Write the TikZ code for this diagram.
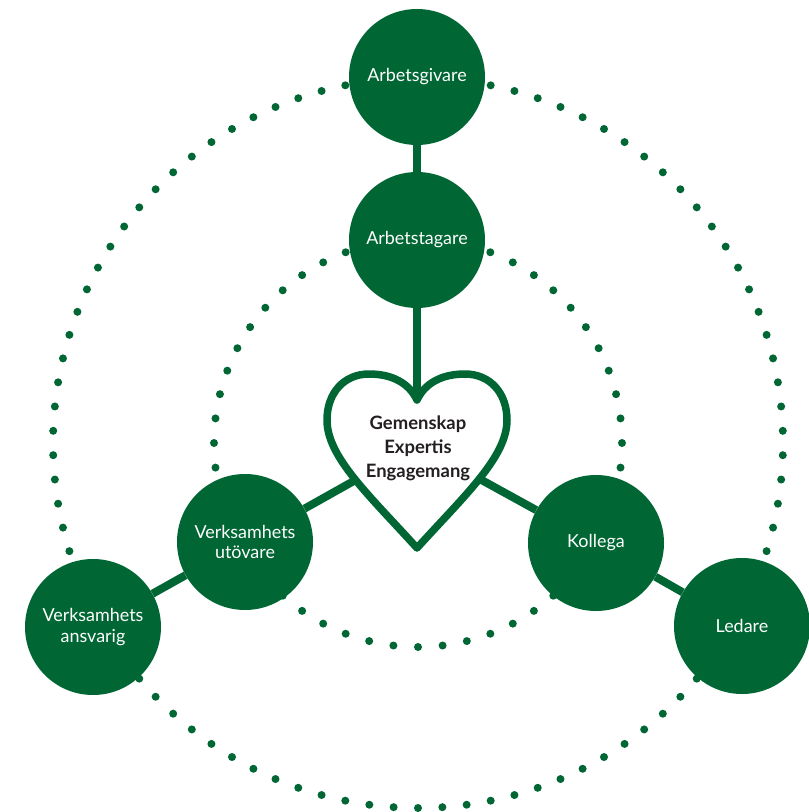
\documentclass[tikz,border=0pt]{standalone}
\usepackage{fontspec}
\setmainfont{Lato}
\definecolor{grn}{RGB}{0,103,52}
\definecolor{txt}{RGB}{35,31,32}
\begin{document}
\begin{tikzpicture}[x=1bp,y=-1bp,
  role/.style={circle,fill=grn,minimum size=136bp,inner sep=0pt,text=white,
    font=\fontsize{18}{21}\selectfont,align=center},
  link/.style={draw=grn,line width=8bp},
  heartline/.style={draw=grn,line width=7.5bp,fill=white,line join=round}]
\useasboundingbox (0,0) rectangle (809,812);
% dotted circles
\foreach \k [evaluate=\k as \a using 90+\k*(360/94)] in {0,...,93}
  \fill[grn] ({418+365*cos(\a)},{443-365*sin(\a)}) circle (4);
\foreach \k [evaluate=\k as \a using 90+\k*(360/52)] in {0,...,51}
  \fill[grn] ({418+204*cos(\a)},{443-204*sin(\a)}) circle (4);
% nodes
\node[role] (giv)  at (417,77)  {Arbetsgivare};
\node[role] (tag)  at (417,240) {Arbetstagare};
\node[role] (utov) at (245,542) {Verksamhets\\utövare};
\node[role] (koll) at (596,543) {Kollega};
\node[role] (ansv) at (93,627)  {Verksamhets\\ansvarig};
\node[role] (led)  at (742,626) {Ledare};
\coordinate (hc) at (418,445);
\coordinate (notch) at (417,400);
% connectors
\draw[link] (giv) -- (tag);
\draw[link] (tag) -- (notch);
\draw[link] (hc) -- (utov);
\draw[link] (utov) -- (ansv);
\draw[link] (hc) -- (koll);
\draw[link] (koll) -- (led);
% heart
\draw[heartline] (notch) .. controls (425,383) and (442,374) .. (465,374)
  .. controls (490,374) and (507,393) .. (507,420)
  .. controls (507,457) and (465,495) .. (417,548)
  .. controls (369,495) and (327,457) .. (327,420)
  .. controls (327,393) and (344,374) .. (369,374)
  .. controls (392,374) and (409,383) .. cycle;
\node[font=\bfseries\fontsize{18.5}{24}\selectfont,text=txt,align=center] (core) at (418,448)
  {Gemenskap\\Expertis\\Engagemang};
\end{tikzpicture}
\end{document}
